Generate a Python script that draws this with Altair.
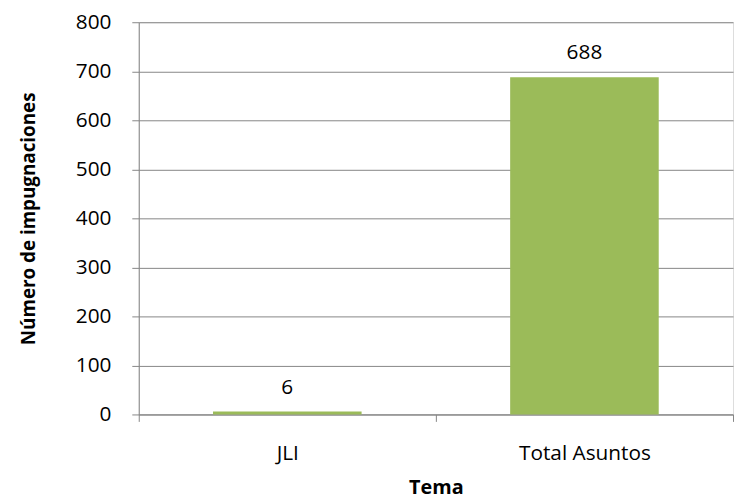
import altair as alt
import pandas as pd

categories = ["JLI", "Total Asuntos"]
values = [6, 688]

df = pd.DataFrame({"Tema": categories, "Impugnaciones": values})

FONT = "Open Sans"
GRID = "#868686"

base = alt.Chart(df).encode(
    x=alt.X(
        "Tema:N",
        sort=categories,
        scale=alt.Scale(paddingInner=0, paddingOuter=0),
        axis=alt.Axis(
            title="Tema",
            labelAngle=0,
            labelFont=FONT,
            labelFontSize=21,
            labelColor="#000000",
            labelPadding=21,
            titleFont=FONT,
            titleFontSize=20,
            titleFontWeight="bold",
            titleColor="#000000",
            titlePadding=15,
            tickBand="extent",
            tickSize=7,
            tickColor=GRID,
            domainColor=GRID,
            grid=False,
        ),
    ),
    y=alt.Y(
        "Impugnaciones:Q",
        scale=alt.Scale(domain=[0, 800], nice=False),
        axis=alt.Axis(
            title="Número de impugnaciones",
            values=[0, 100, 200, 300, 400, 500, 600, 700, 800],
            labelFont=FONT,
            labelFontSize=21,
            labelColor="#000000",
            labelPadding=21,
            titleFont=FONT,
            titleFontSize=19,
            titleFontWeight="bold",
            titleColor="#000000",
            titlePadding=37,
            tickSize=7,
            tickColor=GRID,
            domainColor=GRID,
            gridColor=GRID,
            gridWidth=1,
        ),
    ),
)

bars = base.mark_bar(color="#9BBB59", width=alt.RelativeBandSize(0.5))
labels = base.mark_text(
    baseline="bottom", dy=-14, font=FONT, fontSize=21, color="#000000"
).encode(text="Impugnaciones:Q")

chart = (
    (bars + labels)
    .properties(width=600, height=396, padding={"left": 11, "top": 1, "right": 0, "bottom": 0})
    .configure_view(stroke=None)
    .configure(background="#ffffff")
)

chart.save("out.html", embed_options={"renderer": "svg", "actions": False})
